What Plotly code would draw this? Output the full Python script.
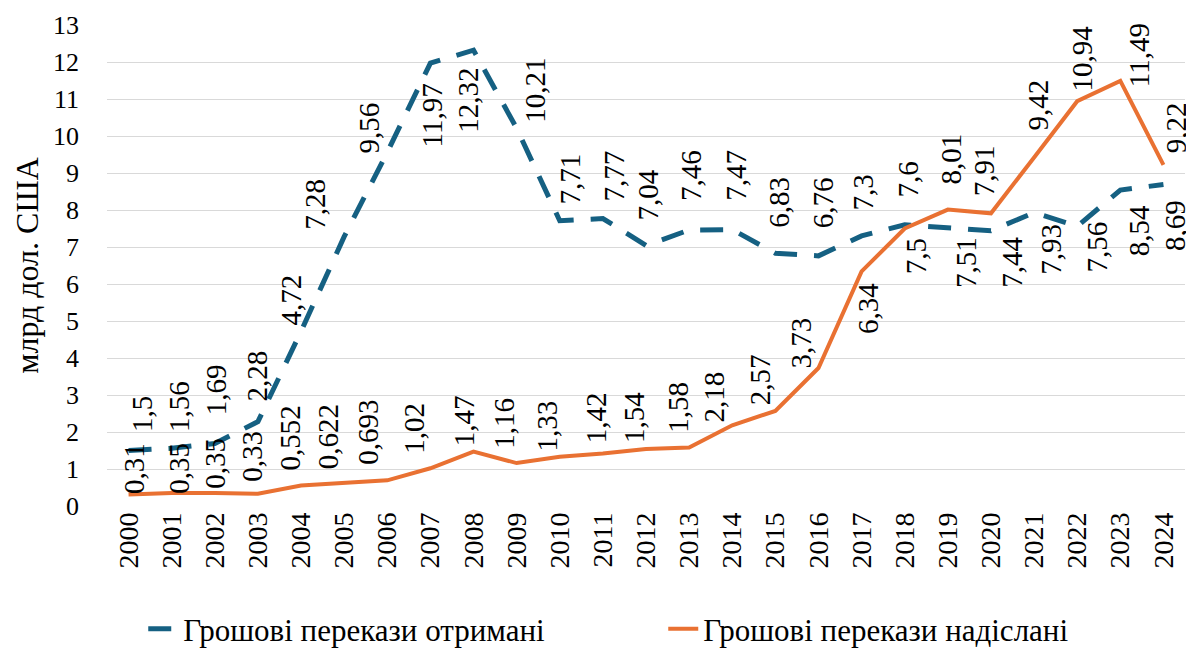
import plotly.graph_objects as go

years = [str(y) for y in range(2000, 2025)]
received = [1.5, 1.56, 1.69, 2.28, 4.72, 7.28, 9.56, 11.97, 12.32, 10.21, 7.71, 7.77, 7.04,
            7.46, 7.47, 6.83, 6.76, 7.3, 7.6, 7.51, 7.44, 7.93, 7.56, 8.54, 8.69]
sent = [0.31, 0.35, 0.35, 0.33, 0.552, 0.622, 0.693, 1.02, 1.47, 1.16, 1.33, 1.42, 1.54,
        1.58, 2.18, 2.57, 3.73, 6.34, 7.5, 8.01, 7.91, 9.42, 10.94, 11.49, 9.22]
received_labels = ["1,5", "1,56", "1,69", "2,28", "4,72", "7,28", "9,56", "11,97", "12,32", "10,21",
                   "7,71", "7,77", "7,04", "7,46", "7,47", "6,83", "6,76", "7,3", "7,6", "7,51",
                   "7,44", "7,93", "7,56", "8,54", "8,69"]
sent_labels = ["0,31", "0,35", "0,35", "0,33", "0,552", "0,622", "0,693", "1,02", "1,47", "1,16",
               "1,33", "1,42", "1,54", "1,58", "2,18", "2,57", "3,73", "6,34", "7,5", "8,01",
               "7,91", "9,42", "10,94", "11,49", "9,22"]
y_ticks = list(range(0, 14))
name_received = "Грошові перекази отримані"
name_sent = "Грошові перекази надіслані"
y_title = "млрд дол. США"

# label pixel offsets (dx right, dy down) relative to each point
recv_off = [(13, -36), (8, -42), (2, -54), (-1, -46), (-10, -31), (-30, -32), (-18, -24),
            (2, 52), (-5, 50), (19, -38), (10, -42), (11, -43), (2, -50), (2, -54), (3, -54),
            (4, -51), (4, -53), (1, -43), (3, -45), (18, 34), (21, 31), (17, 37), (20, 21),
            (19, 41), (12, 41)]
sent_off = [(5, -26), (7, -25), (0, -30), (-6, -38), (-11, -47), (-16, -46), (-19, -48),
            (-16, -40), (-10, -31), (-13, -40), (-13, -31), (-6, -36), (-12, -31), (-12, -40),
            (-18, -28), (-15, -31), (-17, -25), (7, 37), (11, 28), (3, -51), (-7, -43),
            (4, -52), (5, -43), (19, -26), (12, -37)]

FONT = "Liberation Serif"
BLUE = "#156082"
ORANGE = "#E97132"

fig = go.Figure()
fig.add_trace(go.Scatter(x=years, y=received, mode="lines", name=name_received,
                         line=dict(color=BLUE, width=5, dash="23px,17px")))
fig.add_trace(go.Scatter(x=years, y=sent, mode="lines", name=name_sent,
                         line=dict(color=ORANGE, width=4)))

annotations = []
for series, labels, offs in ((received, received_labels, recv_off), (sent, sent_labels, sent_off)):
    for i, (v, lab, (dx, dy)) in enumerate(zip(series, labels, offs)):
        annotations.append(dict(x=i, y=v, xref="x", yref="y", text=lab, showarrow=False,
                                textangle=-90, xanchor="center", yanchor="middle",
                                xshift=dx, yshift=-dy, borderpad=0,
                                font=dict(family=FONT, size=29, color="black")))

# the page body adds an 8px offset, so the figure is sized to fit the 1194x648 window
fig.update_layout(
    width=1186, height=640,
    margin=dict(l=99, r=9, t=17, b=142, autoexpand=False),
    plot_bgcolor="white", paper_bgcolor="white",
    font=dict(family=FONT, size=26, color="black"),
    annotations=annotations,
    showlegend=True,
    legend=dict(orientation="h", x=0.516, xanchor="center", y=-0.256, yanchor="middle",
                font=dict(family=FONT, size=31, color="black"),
                entrywidth=475, tracegroupgap=0),
)
fig.update_xaxes(type="category", range=[-0.5, 24.5], tickangle=-90, showgrid=False,
                 showline=False, ticks="", tickfont=dict(family=FONT, size=28, color="black"),
                 zeroline=False, automargin=False)
fig.update_yaxes(range=[0, 13], tickvals=y_ticks, showgrid=True, gridcolor="#d9d9d9", gridwidth=1.3,
                 zeroline=False, showline=False, ticks="", ticklabelstandoff=27, automargin=False,
                 tickfont=dict(family=FONT, size=26, color="black"),
                 title=dict(text=y_title, font=dict(family=FONT, size=32, color="black"), standoff=4))

fig.write_html("out.html")
